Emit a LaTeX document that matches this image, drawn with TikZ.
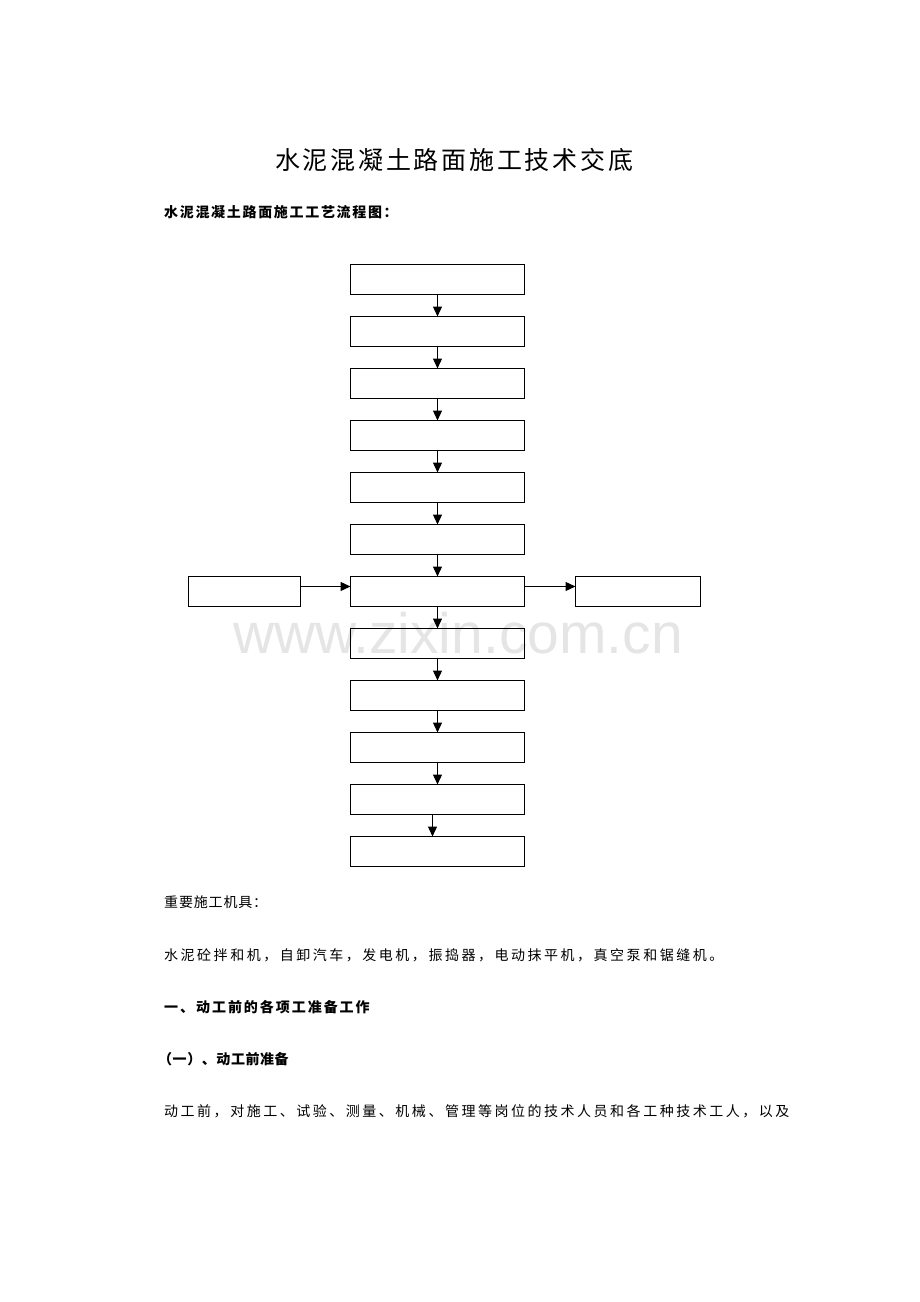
\documentclass[tikz,border=0pt]{standalone}
\usepackage{fontspec}
\setmainfont{Noto Sans CJK SC}
\newfontfamily\markfont{Liberation Sans}
\usepackage{tikz}
\usetikzlibrary{ arrows.meta, positioning }
\tikzset{
>={Triangle[length=10pt,width=9pt]}, % filled arrow heads
node distance=22pt, % gap between two steps of the flow
every node/.style={inner sep=1pt},
stepbox/.style={draw, line width=1pt, minimum width=174pt, minimum height=30pt, outer sep=0pt}, % one step
flow/.style={->, line width=1.2pt},
line/.style={anchor=west, font=\fontsize{14}{14}\selectfont\addfontfeatures{LetterSpace=18}},
}

\begin{document}
\begin{tikzpicture}[x=1pt,y=1pt]
  \useasboundingbox (0,0) rectangle (920,-1302);
  % watermark behind the chart
  \node[text=black!10, font=\markfont\fontsize{57}{57}\selectfont] (mark) at (458,-633) {www.zixin.com.cn};

  \node[font=\fontsize{25}{25}\selectfont\addfontfeatures{LetterSpace=11}] (title) at (454,-160) {水泥混凝土路面施工技术交底};
  \node[line, font=\fontsize{14}{14}\selectfont\bfseries\addfontfeatures{LetterSpace=12}] (chart) at (163,-212) {水泥混凝土路面施工工艺流程图：};

  % main column
  \node[stepbox] (s1) at (437.5,-279.5) {};
  \node[stepbox, below=of s1] (s2) {};
  \node[stepbox, below=of s2] (s3) {};
  \node[stepbox, below=of s3] (s4) {};
  \node[stepbox, below=of s4] (s5) {};
  \node[stepbox, below=of s5] (s6) {};
  \node[stepbox, below=of s6] (s7) {};
  \node[stepbox, below=of s7] (s8) {};
  \node[stepbox, below=of s8] (s9) {};
  \node[stepbox, below=of s9] (s10) {};
  \node[stepbox, below=of s10] (s11) {};
  \node[stepbox, below=of s11] (s12) {};
  % side steps
  \node[stepbox, minimum width=112pt, left=50pt of s7] (sl) {};
  \node[stepbox, minimum width=125pt, right=51pt of s7] (sr) {};

  \path[flow]
  (s1) edge (s2)
  (s2) edge (s3)
  (s3) edge (s4)
  (s4) edge (s5)
  (s5) edge (s6)
  (s6) edge (s7)
  (s7) edge (s8)
  (s8) edge (s9)
  (s9) edge (s10)
  (s10) edge (s11)
  ([xshift=-5pt]s11.south) edge ([xshift=-5pt]s12.north)
  ([yshift=5pt]sl.east) edge ([yshift=5pt]s7.west)
  ([yshift=5pt]s7.east) edge ([yshift=5pt]sr.west);

  % text below the chart
  \node[line, font=\fontsize{14}{14}\selectfont\addfontfeatures{LetterSpace=6}] (tools) at (163,-902) {重要施工机具：};
  \node[line] (list) at (163,-955) {水泥砼拌和机，自卸汽车，发电机，振捣器，电动抹平机，真空泵和锯缝机。};
  \node[line, font=\fontsize{14}{14}\selectfont\bfseries\addfontfeatures{LetterSpace=14}] (sec1) at (163,-1007) {一、动工前的各项工准备工作};
  \node[line, font=\fontsize{14}{14}\selectfont\bfseries\addfontfeatures{LetterSpace=4}] (sec11) at (157,-1059) {（一）、动工前准备};
  \node[line] (para) at (163,-1111) {动工前，对施工、试验、测量、机械、管理等岗位的技术人员和各工种技术工人，以及};
\end{tikzpicture}
\end{document}
